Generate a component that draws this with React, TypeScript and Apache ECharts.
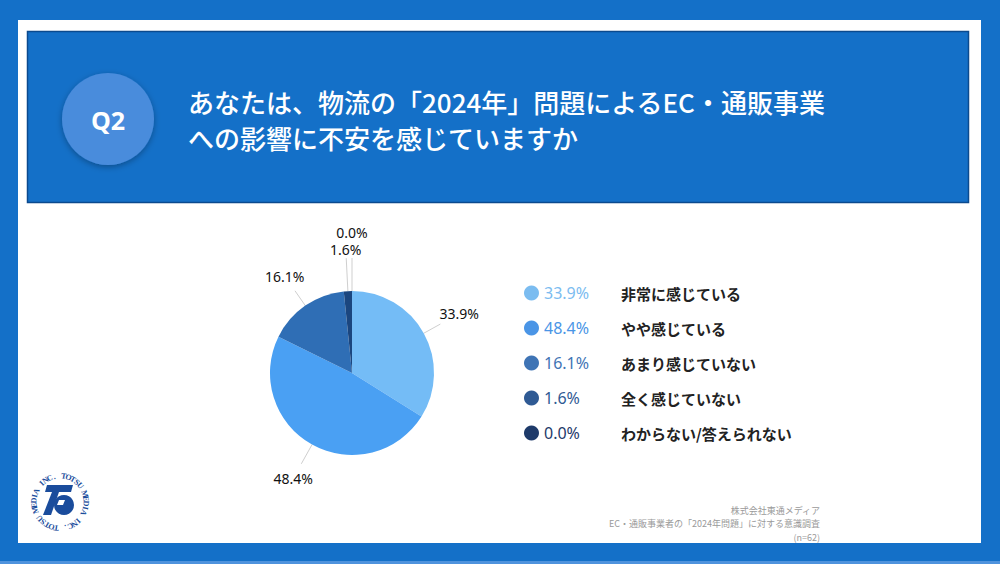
import React, { useEffect, useRef } from "react";
import * as echarts from "echarts";

const categories = ["非常に感じている", "やや感じている", "あまり感じていない", "全く感じていない", "わからない/答えられない"];
const values = [33.9, 48.4, 16.1, 1.6, 0.0];
const pieColors = ["#74bcf6", "#4aa0f3", "#2f6eb5", "#1b467f", "#152f5a"];
const legendColors = ["#7bbcf0", "#4a95e6", "#3f74b5", "#2f5a94", "#1e3a6a"];
const labelLineLengths = [19, 22, 18, 33, 33];
const titleLines = ["あなたは、物流の「2024年」問題によるEC・通販事業", "への影響に不安を感じていますか"];
const footerLines = ["株式会社東通メディア", "EC・通販事業者の「2024年問題」に対する意識調査", "(n=62)"];
const logoText = "TOTSU MEDIA INC. TOTSU MEDIA INC. ";

const JP = "'Noto Sans CJK JP', 'Noto Sans', sans-serif";
const NUM = "'Noto Sans', 'Noto Sans CJK JP', sans-serif";

function buildLogo(cx: number, cy: number, r: number) {
  const chars = logoText.split("");
  const step = (Math.PI * 2) / chars.length;
  const els: any[] = chars.map((ch, i) => {
    const a = -Math.PI / 2 + 0.15 + i * step;
    return {
      type: "text",
      x: cx + r * Math.cos(a),
      y: cy + r * Math.sin(a),
      rotation: -(a + Math.PI / 2),
      z: 5,
      style: {
        text: ch,
        fill: "#1a4c9c",
        font: "bold 8px 'Liberation Serif', 'DejaVu Serif', serif",
        textAlign: "center",
        textVerticalAlign: "middle",
      },
    };
  });
  els.push(
    { type: "polygon", z: 5, shape: { points: [[cx - 13, cy - 17], [cx + 13, cy - 17], [cx + 11, cy - 10], [cx - 15, cy - 10]] }, style: { fill: "#1a4c9c" } },
    { type: "polygon", z: 5, shape: { points: [[cx - 8, cy - 10], [cx - 1, cy - 10], [cx - 9, cy + 13], [cx - 17, cy + 13]] }, style: { fill: "#1a4c9c" } },
    { type: "circle", z: 5, shape: { cx: cx + 4, cy: cy + 3, r: 10 }, style: { fill: "#1a4c9c" } },
    { type: "polygon", z: 6, shape: { points: [[cx - 1, cy - 2], [cx + 5, cy - 2], [cx + 3, cy + 3], [cx - 3, cy + 3]] }, style: { fill: "#ffffff" } }
  );
  return els;
}

export default function App() {
  const ref = useRef<HTMLDivElement>(null);
  useEffect(() => {
    document.body.style.margin = "0";
    const chart = echarts.init(ref.current!, null, { renderer: "svg" });
    const total = values.reduce((a, b) => a + b, 0);
    const legendData = categories.map((name, i) => ({
      name,
      itemStyle: { color: legendColors[i] },
      textStyle: {
        rich: {
          p: { width: 77, fontSize: 16, color: legendColors[i], fontFamily: NUM },
          n: { fontSize: 15, fontWeight: "bold", color: "#222222", fontFamily: JP },
        },
      },
    }));
    const graphics: any[] = [
      { type: "rect", z: 0, shape: { x: 18, y: 20, width: 963, height: 523 }, style: { fill: "#ffffff" } },
      { type: "rect", z: 0, shape: { x: 27.5, y: 31.5, width: 941, height: 171 }, style: { fill: "#1470c8", stroke: "#0b4a8e", lineWidth: 1.5 } },
      { type: "rect", z: 0, shape: { x: 0, y: 561, width: 1000, height: 3 }, style: { fill: "#4f93dd" } },
      {
        type: "circle", z: 1, shape: { cx: 108, cy: 119, r: 46 },
        style: { fill: "#4a8cdc", shadowBlur: 6, shadowColor: "rgba(0,0,0,0.3)", shadowOffsetY: 2 },
      },
      {
        type: "text", z: 2, x: 108, y: 120,
        style: { text: "Q2", fill: "#ffffff", font: "bold 25px 'Open Sans', 'Noto Sans', sans-serif", textAlign: "center", textVerticalAlign: "middle" },
      },
      ...titleLines.map((t, i) => ({
        type: "text", z: 2, x: 188, y: 101 + i * 36,
        style: { text: t, fill: "#ffffff", font: `500 26px ${JP}`, textAlign: "left", textVerticalAlign: "middle" },
      })),
      ...footerLines.map((t, i) => ({
        type: "text", z: 2, x: 820, y: 510 + i * 13.5,
        style: { text: t, fill: "#9a9a9a", font: `9px ${JP}`, textAlign: "right", textVerticalAlign: "middle" },
      })),
      ...buildLogo(60, 502, 26),
    ];

    let placed: { x: number; y: number; w: number; h: number }[] = [];
    const labelLayout = (params: any) => {
      const pts = params.labelLinePoints;
      const rect = params.labelRect;
      if (!pts || !rect) return {};
      if (params.dataIndex === 0) placed = [];
      const p0 = pts[0];
      const p1 = pts[1];
      let dx = p1[0] - p0[0];
      let dy = p1[1] - p0[1];
      const len = Math.hypot(dx, dy) || 1;
      dx /= len;
      dy /= len;
      const w = rect.width;
      const h = rect.height;
      const off = (w / 2) * Math.abs(dx) + (h / 2) * Math.abs(dy) + 1;
      let cx = p1[0] + dx * off;
      let cy = p1[1] + dy * off;
      for (let k = 0; k < 60; k++) {
        const hit = placed.some(
          (r) => Math.abs(r.x - cx) < (r.w + w) / 2 && Math.abs(r.y - cy) < (r.h + h) / 2 + 3
        );
        if (!hit) break;
        cy += dy < 0 ? -1 : 1;
      }
      placed.push({ x: cx, y: cy, w, h });
      return {
        x: cx,
        y: cy,
        align: "center",
        verticalAlign: "middle",
        labelLinePoints: [p0, p1, p1],
      };
    };

    chart.setOption({
      animation: false,
      backgroundColor: "#1470c8",
      graphic: { elements: graphics },
      legend: {
        orient: "vertical",
        left: 519,
        top: 280,
        icon: "circle",
        itemWidth: 15,
        itemHeight: 15,
        itemGap: 19,
        selectedMode: false,
        formatter: (name: string) => {
          const i = categories.indexOf(name);
          return `{p|${values[i].toFixed(1)}%}{n|${name}}`;
        },
        data: legendData,
      },
      series: [
        {
          type: "pie",
          center: [352, 373],
          radius: 82,
          startAngle: 90,
          clockwise: true,
          z: 3,
          avoidLabelOverlap: false,
          itemStyle: { borderWidth: 0 },
          label: {
            show: true,
            position: "outside",
            formatter: (p: any) => `${((p.value / total) * 100).toFixed(1)}%`,
            fontSize: 14,
            color: "#111111",
            fontFamily: NUM,
          },
          labelLine: { show: true, length: 19, length2: 0, lineStyle: { color: "#cfcfcf", width: 1 } },
          labelLayout,
          data: categories.map((name, i) => ({
            name,
            value: values[i],
            itemStyle: { color: pieColors[i] },
            labelLine: { length: labelLineLengths[i], length2: 0 },
          })),
        },
      ],
    });
    return () => chart.dispose();
  }, []);
  return <div ref={ref} style={{ width: 1000, height: 564, position: "absolute", left: 0, top: 0 }} />;
}
